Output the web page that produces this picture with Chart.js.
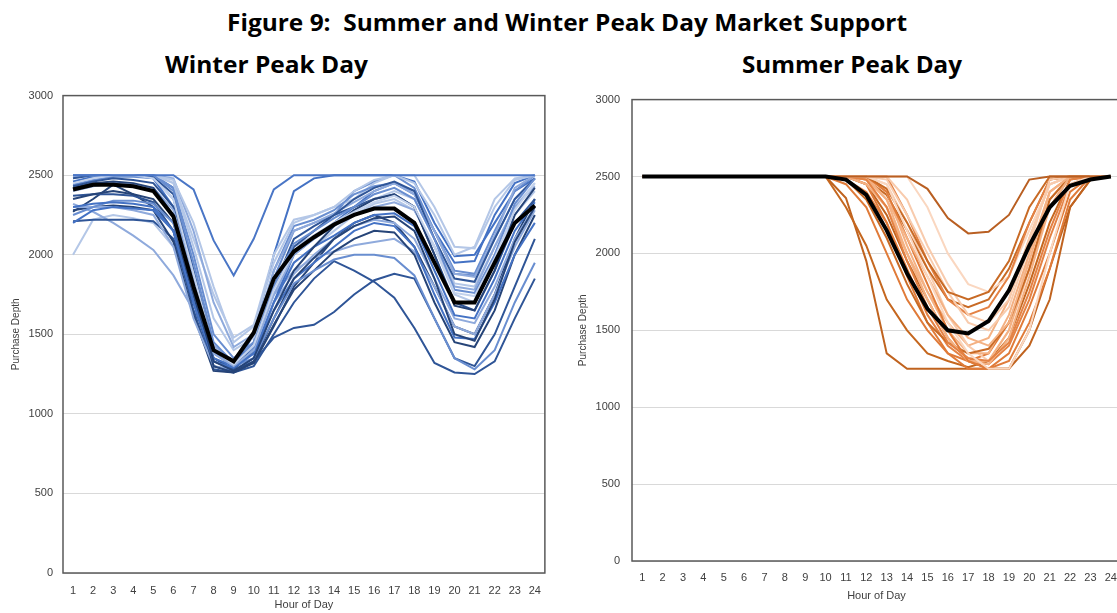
<!DOCTYPE html>
<html>
<head>
<meta charset="utf-8">
<script src="https://cdn.jsdelivr.net/npm/chart.js@4.4.1/dist/chart.umd.min.js"></script>
<style>
    html, body { margin: 0; padding: 0; background: #fff; width: 1117px; height: 613px; overflow: hidden; }
    body { position: relative; }
    .head { position: absolute; font-family: "Open Sans", sans-serif; font-weight: 700; font-size: 23px; line-height: 30px; color: #000; white-space: nowrap; transform-origin: 0 50%; }
    #fig { left: 227px; top: 7px; }
    #wt { left: 165px; top: 49px; }
    #st { left: 742px; top: 49px; }
    .box { position: absolute; }
    #winterBox { left: 0; width: 552px; top: 79px; height: 534px; }
    #summerBox { left: 575px; width: 552px; top: 81px; height: 532px; }
</style>
</head>
<body>
<div class="head" id="fig" data-w="680">Figure 9:&nbsp; Summer and Winter Peak Day Market Support</div>
<div class="head" id="wt" data-w="203">Winter Peak Day</div>
<div class="head" id="st" data-w="220">Summer Peak Day</div>
<div class="box" id="winterBox"><canvas id="winterChart"></canvas></div>
<div class="box" id="summerBox"><canvas id="summerChart"></canvas></div>
<script>
const hours = ['1','2','3','4','5','6','7','8','9','10','11','12','13','14','15','16','17','18','19','20','21','22','23','24'];
const yTicks = [0, 500, 1000, 1500, 2000, 2500, 3000];

// average lines (black)
const winterAvg = [2410,2440,2440,2430,2400,2240,1800,1400,1330,1510,1850,2020,2110,2190,2250,2290,2290,2200,1950,1700,1700,1950,2200,2310];
const summerAvg = [2500,2500,2500,2500,2500,2500,2500,2500,2500,2500,2480,2380,2150,1870,1640,1500,1480,1560,1760,2050,2300,2440,2480,2500];

// individual winter days
const winterDays = [
    [2270,2350,2440,2380,2300,2150,1750,1350,1280,1320,1550,1800,1950,2100,2200,2250,2200,2050,1800,1550,1500,1750,2100,2350],
    [2000,2220,2250,2230,2200,2050,1700,1420,1300,1400,1750,1950,2050,2150,2250,2320,2350,2280,2050,1750,1700,1950,2250,2400],
    [2320,2270,2200,2120,2030,1870,1650,1430,1330,1450,1750,1900,1980,2020,2060,2080,2100,2020,1800,1550,1500,1750,2050,2280],
    [2210,2220,2220,2220,2210,2100,1700,1300,1270,1330,1480,1540,1560,1640,1750,1840,1880,1850,1600,1350,1300,1500,1800,2100],
    [2370,2380,2380,2370,2330,2150,1650,1280,1260,1300,1500,1700,1850,1960,1900,1830,1730,1540,1320,1260,1250,1330,1600,1850],
    [2460,2490,2500,2500,2500,2420,1900,1400,1290,1500,2000,2400,2480,2500,2500,2500,2500,2460,2200,1990,2000,2200,2400,2480],
    [2440,2470,2490,2490,2480,2350,1850,1380,1300,1450,1850,2150,2200,2250,2400,2460,2500,2420,2150,1880,1870,2100,2350,2480],
    [2500,2500,2500,2500,2500,2450,2100,1750,1480,1560,2000,2220,2250,2300,2350,2450,2500,2450,2250,2000,2050,2350,2480,2500],
    [2280,2300,2310,2300,2280,2080,1620,1270,1260,1320,1560,1780,1900,2020,2100,2150,2140,2000,1700,1450,1420,1650,2000,2250],
    [2500,2500,2500,2500,2480,2300,1750,1300,1270,1350,1700,2000,2100,2200,2300,2400,2450,2380,2150,1950,1960,2250,2450,2500],
    [2300,2300,2300,2280,2250,2050,1600,1300,1280,1380,1700,1880,2000,2100,2180,2220,2200,2100,1850,1600,1570,1800,2100,2300],
    [2430,2460,2480,2470,2450,2300,1800,1330,1280,1400,1800,2100,2180,2250,2300,2350,2380,2300,2000,1700,1650,1900,2200,2350],
    [2500,2500,2500,2500,2500,2420,2000,1500,1350,1450,1900,2180,2220,2280,2380,2430,2450,2400,2150,1900,1880,2150,2400,2500],
    [2480,2500,2500,2500,2500,2450,2050,1600,1400,1480,1850,2050,2120,2200,2280,2350,2400,2350,2100,1820,1800,2050,2300,2450],
    [2200,2280,2300,2290,2280,2150,1700,1350,1300,1380,1650,1850,1950,2050,2150,2200,2180,2050,1750,1480,1470,1700,2000,2200],
    [2350,2380,2400,2380,2350,2200,1750,1300,1260,1330,1600,1850,1980,2100,2180,2230,2240,2150,1850,1500,1460,1720,2080,2300],
    [2500,2500,2500,2500,2500,2480,2150,1700,1420,1500,1900,2150,2200,2260,2330,2400,2450,2380,2150,1880,1860,2120,2420,2500],
    [2250,2300,2340,2340,2320,2200,1800,1400,1300,1350,1600,1820,1900,1970,2000,2000,1980,1870,1600,1350,1280,1400,1700,1950],
    [2500,2500,2500,2500,2500,2470,2200,1800,1450,1550,1950,2200,2250,2300,2400,2470,2500,2500,2300,2050,2040,2300,2470,2500],
    [2480,2500,2500,2500,2490,2380,1900,1400,1300,1420,1800,2050,2150,2250,2350,2420,2460,2400,2100,1850,1830,2100,2350,2480],
    [2300,2320,2330,2320,2300,2150,1700,1330,1290,1380,1700,1950,2050,2120,2200,2250,2260,2180,1900,1620,1600,1850,2150,2330],
    [2400,2430,2450,2440,2420,2280,1850,1380,1300,1400,1750,2000,2100,2180,2250,2300,2330,2280,2050,1800,1780,2050,2300,2430],
    [2420,2450,2460,2450,2420,2250,1780,1330,1270,1350,1650,1900,2050,2180,2280,2350,2380,2300,2000,1680,1650,1900,2250,2420],
    [2500,2500,2500,2500,2500,2400,1950,1450,1320,1420,1800,2070,2150,2230,2300,2380,2420,2350,2100,1780,1760,2000,2320,2480],
    [2450,2480,2500,2500,2480,2350,1880,1400,1310,1430,1780,2020,2120,2200,2270,2330,2370,2300,2050,1760,1740,1980,2280,2450],
    [2500,2500,2500,2500,2500,2500,2410,2090,1870,2100,2410,2500,2500,2500,2500,2500,2500,2500,2500,2500,2500,2500,2500,2500]
];

// individual summer days
const summerDays = [
    [2500,2500,2500,2500,2500,2500,2500,2500,2500,2500,2360,1950,1350,1250,1250,1250,1250,1250,1250,1500,1900,2300,2480,2500],
    [2500,2500,2500,2500,2500,2500,2500,2500,2500,2500,2300,2050,1700,1500,1350,1300,1260,1300,1450,1800,2200,2480,2500,2500],
    [2500,2500,2500,2500,2500,2500,2500,2500,2500,2500,2450,2300,2000,1700,1500,1350,1300,1350,1550,1900,2300,2500,2500,2500],
    [2500,2500,2500,2500,2500,2500,2500,2500,2500,2500,2500,2480,2300,2000,1750,1550,1400,1450,1700,2100,2450,2500,2500,2500],
    [2500,2500,2500,2500,2500,2500,2500,2500,2500,2500,2500,2500,2450,2200,1900,1600,1400,1300,1500,2000,2400,2500,2500,2500],
    [2500,2500,2500,2500,2500,2500,2500,2500,2500,2500,2500,2480,2380,2150,1900,1700,1650,1700,1900,2200,2480,2500,2500,2500],
    [2500,2500,2500,2500,2500,2500,2500,2500,2500,2500,2480,2400,2200,1900,1600,1400,1300,1280,1400,1700,2100,2450,2500,2500],
    [2500,2500,2500,2500,2500,2500,2500,2500,2500,2500,2500,2500,2400,2050,1750,1500,1350,1350,1600,2000,2400,2500,2500,2500],
    [2500,2500,2500,2500,2500,2500,2500,2500,2500,2500,2500,2500,2500,2500,2300,2000,1800,1750,1850,2150,2450,2500,2500,2500],
    [2500,2500,2500,2500,2500,2500,2500,2500,2500,2500,2500,2450,2250,1950,1700,1450,1300,1250,1250,1400,1700,2300,2480,2500],
    [2500,2500,2500,2500,2500,2500,2500,2500,2500,2500,2500,2450,2200,1850,1550,1350,1250,1250,1350,1650,2000,2400,2500,2500],
    [2500,2500,2500,2500,2500,2500,2500,2500,2500,2500,2500,2500,2350,2000,1700,1450,1300,1300,1500,1900,2350,2500,2500,2500],
    [2500,2500,2500,2500,2500,2500,2500,2500,2500,2500,2500,2500,2500,2250,1950,1700,1600,1650,1850,2200,2480,2500,2500,2500],
    [2500,2500,2500,2500,2500,2500,2500,2500,2500,2500,2500,2500,2480,2250,2000,1750,1550,1500,1650,2050,2480,2500,2500,2500],
    [2500,2500,2500,2500,2500,2500,2500,2500,2500,2500,2480,2350,2100,1800,1550,1420,1350,1380,1550,1900,2350,2500,2500,2500],
    [2500,2500,2500,2500,2500,2500,2500,2500,2500,2500,2500,2450,2300,2000,1700,1450,1300,1280,1450,1850,2300,2500,2500,2500],
    [2500,2500,2500,2500,2500,2500,2500,2500,2500,2500,2500,2500,2400,2100,1800,1500,1300,1250,1300,1550,1900,2350,2500,2500],
    [2500,2500,2500,2500,2500,2500,2500,2500,2500,2500,2500,2500,2500,2350,2050,1800,1600,1550,1700,2100,2450,2500,2500,2500],
    [2500,2500,2500,2500,2500,2500,2500,2500,2500,2500,2500,2480,2350,2100,1850,1600,1450,1400,1550,1950,2400,2500,2500,2500],
    [2500,2500,2500,2500,2500,2500,2500,2500,2500,2500,2500,2500,2420,2200,1950,1750,1700,1750,1950,2300,2500,2500,2500,2500],
    [2500,2500,2500,2500,2500,2500,2500,2500,2500,2500,2500,2480,2300,1950,1650,1420,1320,1300,1420,1750,2150,2480,2500,2500],
    [2500,2500,2500,2500,2500,2500,2500,2500,2500,2500,2500,2500,2450,2150,1850,1550,1350,1250,1250,1500,2000,2450,2500,2500],
    [2500,2500,2500,2500,2500,2500,2500,2500,2500,2500,2500,2500,2500,2500,2420,2230,2130,2140,2250,2480,2500,2500,2500,2500]
];

const bluePalette = ['#264478','#b4c7e7','#8faadc','#2f5597','#2f5597','#4472c4','#698ed0','#b4c7e7','#264478','#4472c4',
                     '#8faadc','#2f5597','#698ed0','#b4c7e7','#4472c4','#264478','#8faadc','#698ed0','#b4c7e7','#2f5597',
                     '#4472c4','#8faadc','#264478','#698ed0','#c3d2ec','#4a76c6'];
const orangePalette = ['#c0631f','#c5671f','#e07b39','#f4b183','#f8cbad','#c86a25','#e48244','#f4b183','#fad7c0','#c0631f',
                       '#e07b39','#f4b183','#e48244','#f8cbad','#c86a25','#f4b183','#e07b39','#f8cbad','#f4b183','#c86a25',
                       '#e48244','#fad7c0','#b95f22'];

// squeeze the headings to the width they have in the figure
document.querySelectorAll('.head').forEach(el => {
    const w = el.getBoundingClientRect().width;
    el.style.transform = 'scaleX(' + (el.dataset.w / w) + ')';
});

// frame around the plot area, like the Excel plot border
const plotBorder = {
    id: 'plotBorder',
    afterDatasetsDraw(chart) {
        const a = chart.chartArea;
        const ctx = chart.ctx;
        ctx.save();
        ctx.strokeStyle = '#595959';
        ctx.lineWidth = 1.5;
        ctx.strokeRect(a.left, a.top, a.right - a.left, a.bottom - a.top);
        ctx.restore();
    }
};

function buildChart(id, days, colors, avg, opt) {
    const datasets = days.map((d, i) => ({
        data: d,
        borderColor: colors[i % colors.length],
        borderWidth: 2,
        pointRadius: 0,
        tension: 0,
        fill: false,
        order: days.length - i
    }));
    datasets.push({
        data: avg,
        borderColor: '#000',
        borderWidth: 4,
        pointRadius: 0,
        tension: 0,
        fill: false,
        order: 0
    });
    const tickFont = { family: '"Liberation Sans", sans-serif', size: 11 };
    return new Chart(document.getElementById(id), {
        type: 'line',
        data: { labels: hours, datasets: datasets },
        options: {
            responsive: true,
            maintainAspectRatio: false,
            animation: false,
            events: [],
            layout: { padding: { top: opt.padTop, right: 2, left: 0, bottom: 0 } },
            plugins: { legend: { display: false }, tooltip: { enabled: false } },
            scales: {
                x: {
                    offset: true,
                    grid: { display: false, drawTicks: false },
                    border: { display: false },
                    ticks: { color: '#404040', font: tickFont, autoSkip: false, maxRotation: 0, padding: opt.xTickPad },
                    title: { display: true, text: 'Hour of Day', color: '#404040', font: tickFont, padding: { top: 0, bottom: opt.xTitlePad } },
                    afterFit(scale) { scale.height = opt.xHeight; }
                },
                y: {
                    min: 0,
                    max: 3000,
                    afterBuildTicks(scale) { scale.ticks = yTicks.map(v => ({ value: v })); },
                    grid: { color: '#d9d9d9', lineWidth: 1, drawTicks: false },
                    border: { display: false },
                    ticks: { color: '#404040', font: tickFont, padding: opt.yTickPad, callback: v => String(v) },
                    title: { display: true, text: 'Purchase Depth', color: '#404040', font: { family: '"Liberation Sans", sans-serif', size: 10 }, padding: { top: opt.yTitlePad, bottom: 0 } },
                    afterFit(scale) { scale.width = opt.yWidth; }
                }
            }
        },
        plugins: [plotBorder]
    });
}

buildChart('winterChart', winterDays, bluePalette, winterAvg,
    { padTop: 4, xHeight: 40, xTickPad: 11, xTitlePad: 1, yWidth: 63, yTickPad: 10, yTitlePad: 10 });
buildChart('summerChart', summerDays, orangePalette, summerAvg,
    { padTop: 4, xHeight: 52, xTickPad: 10, xTitlePad: 10, yWidth: 57, yTickPad: 12, yTitlePad: 2 });
</script>
</body>
</html>
